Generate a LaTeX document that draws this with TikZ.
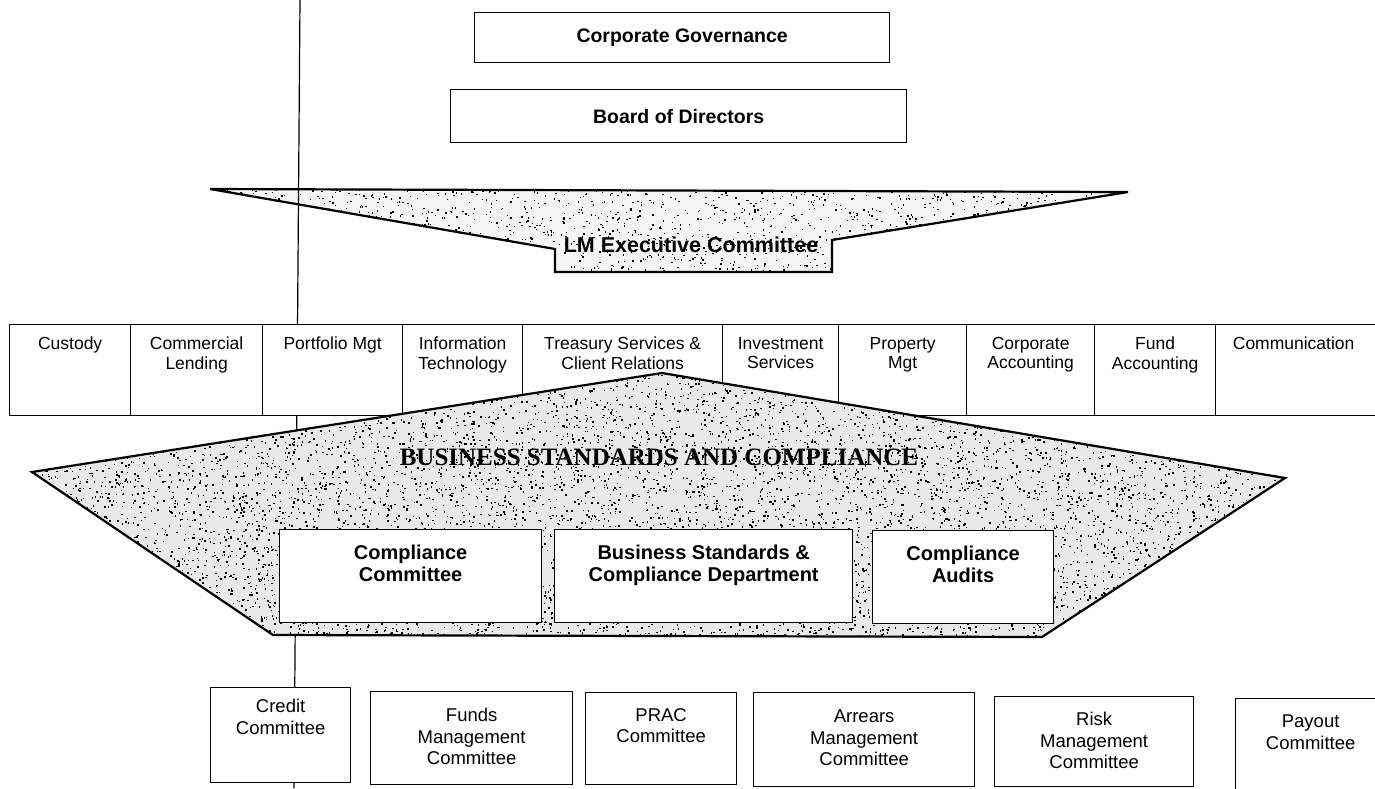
\documentclass[tikz,border=0pt]{standalone}
\usepackage{fontspec}
\newfontfamily\arialf{Liberation Sans}
\newfontfamily\tnrf{Liberation Serif}
\newcommand\stipdots[6]{%
  \foreach \k in {1,...,#1}{%
    \pgfmathsetmacro\sx{#2+#4*rnd}%
    \pgfmathsetmacro\sy{#3+#5*rnd}%
    \fill[black] (\sx,\sy) rectangle ++(#6,#6);%
  }}
\begin{document}
\begin{tikzpicture}[x=1pt,y=-1pt,
  box/.style={draw=black, line width=1.3pt, fill=white, inner sep=0pt, anchor=north west},
  wh/.style 2 args={minimum width=#1pt, minimum height=#2pt},
  dtxt/.style={font=\arialf\fontsize{17.5}{19.5}\selectfont, align=center, anchor=north, inner sep=0pt},
  btxt/.style={font=\arialf\bfseries\fontsize{20}{21.5}\selectfont, align=center, anchor=north, inner sep=0pt},
  ctxt/.style={font=\arialf\fontsize{18.5}{21.5}\selectfont, align=center, anchor=north, inner sep=0pt},
  toptxt/.style={font=\arialf\bfseries\fontsize{19.5}{22}\selectfont},
  lmtxt/.style={font=\arialf\bfseries\fontsize{21.5}{24}\selectfont, inner sep=0pt},
  bsctxt/.style={font=\tnrf\bfseries\fontsize{25}{30}\selectfont, inner sep=0pt, anchor=base},
  shapeline/.style={draw=black, line width=2.2pt},
  vline/.style={draw=black, line width=1.2pt}]
\useasboundingbox (0,0) rectangle (1375,788);
\clip (0,0) rectangle (1375,788);
\fill[white] (0,0) rectangle (1375,788);
\pgfmathsetseed{4242}

% ---------- LM Executive Committee shape
\coordinate (lm1) at (210,189);
\coordinate (lm2) at (1128,192);
\coordinate (lm3) at (832,240);
\coordinate (lm4) at (832,272);
\coordinate (lm5) at (555,272);
\coordinate (lm6) at (555,249);
\begin{scope}
  \clip (lm1)--(lm2)--(lm3)--(lm4)--(lm5)--(lm6)--cycle;
  \fill[gray!8] (205,185) rectangle (1135,278);
  \stipdots{1700}{210}{189}{918}{84}{1.4}
\end{scope}
\draw[shapeline] (lm1)--(lm2)--(lm3)--(lm4)--(lm5)--(lm6)--cycle;
\node[lmtxt] (lmT) at (691,245) {LM Executive Committee};

% ---------- vertical line
\coordinate (vtop) at (300,0);
\coordinate (vbot) at (294,788);
\draw[vline] (vtop) -- (vbot);

% ---------- top boxes
\node[box, wh={415}{50}, toptxt] (cg) at (474,12) {Corporate Governance};
\node[box, wh={456}{53}, toptxt] (bod) at (450,89) {Board of Directors};

% ---------- departments row
\node[box, wh={121}{91}] (cust) at (9,324) {};
\node[dtxt] (custT) at ([yshift=-13pt]cust.north) {Custody};
\node[box, wh={132}{91}] (coml) at (130,324) {};
\node[dtxt] (comlT) at ([yshift=-13pt]coml.north) {Commercial\\Lending};
\node[box, wh={140}{91}] (port) at (262,324) {};
\node[dtxt] (portT) at ([yshift=-13pt]port.north) {Portfolio Mgt};
\node[box, wh={120}{91}] (info) at (402,324) {};
\node[dtxt] (infoT) at ([yshift=-13pt]info.north) {Information\\Technology};
\node[box, wh={200}{91}] (tres) at (522,324) {};
\node[dtxt] (tresT) at ([yshift=-13pt]tres.north) {Treasury Services \&\\Client Relations};
\node[box, wh={116}{91}] (inv) at (722,324) {};
\node[dtxt] (invT) at ([yshift=-13pt]inv.north) {Investment\\Services};
\node[box, wh={128}{91}] (prop) at (838,324) {};
\node[dtxt] (propT) at ([yshift=-13pt]prop.north) {Property\\Mgt};
\node[box, wh={128}{91}] (corp) at (966,324) {};
\node[dtxt] (corpT) at ([yshift=-13pt]corp.north) {Corporate\\Accounting};
\node[box, wh={121}{91}] (fund) at (1094,324) {};
\node[dtxt] (fundT) at ([yshift=-13pt]fund.north) {Fund\\Accounting};
\node[box, wh={210}{91}] (comm) at (1215,324) {};
\node[dtxt] (commT) at ([xshift=-27pt, yshift=-13pt]comm.north) {Communication};

% ---------- Business standards and compliance shape
\coordinate (b1) at (32,472);
\coordinate (b2) at (662,373);
\coordinate (b3) at (1285,478);
\coordinate (b4) at (1042,637);
\coordinate (b5) at (273,635);
\begin{scope}
  \clip (b1)--(b2)--(b3)--(b4)--(b5)--cycle;
  \fill[gray!17] (30,370) rectangle (1290,640);
  \stipdots{9500}{32}{373}{1253}{265}{1.5}
\end{scope}
\draw[shapeline] (b1)--(b2)--(b3)--(b4)--(b5)--cycle;
\node[bsctxt] (bscT) at (659,465) {BUSINESS STANDARDS AND COMPLIANCE};

\node[box, wh={262}{93}] (ccom) at (279,529) {};
\node[btxt] (ccomT) at ([yshift=-16pt]ccom.north) {Compliance\\Committee};
\node[box, wh={298}{93}] (bscd) at (554,529) {};
\node[btxt] (bscdT) at ([yshift=-16pt]bscd.north) {Business Standards \&\\Compliance Department};
\node[box, wh={181}{93}] (caud) at (872,530) {};
\node[btxt] (caudT) at ([yshift=-16pt]caud.north) {Compliance\\Audits};

% ---------- committees row
\node[box, wh={140}{95}] (cred) at (210,687) {};
\node[ctxt] (credT) at ([yshift=-12pt]cred.north) {Credit\\Committee};
\node[box, wh={202}{93}] (fmc) at (370,691) {};
\node[ctxt] (fmcT) at ([yshift=-17pt]fmc.north) {Funds\\Management\\Committee};
\node[box, wh={151}{92}] (prac) at (585,692) {};
\node[ctxt] (pracT) at ([yshift=-16pt]prac.north) {PRAC\\Committee};
\node[box, wh={221}{94}] (amc) at (753,692) {};
\node[ctxt] (amcT) at ([yshift=-18pt]amc.north) {Arrears\\Management\\Committee};
\node[box, wh={199}{90}] (rmc) at (994,696) {};
\node[ctxt] (rmcT) at ([yshift=-16pt]rmc.north) {Risk\\Management\\Committee};
\node[box, wh={150}{100}] (pay) at (1235,698) {};
\node[ctxt] (payT) at ([yshift=-17pt]pay.north) {Payout\\Committee};
\end{tikzpicture}
\end{document}
